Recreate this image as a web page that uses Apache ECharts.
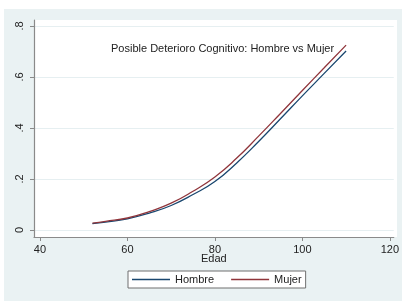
<!DOCTYPE html>
<html>
<head>
<meta charset="utf-8">
<script src="https://cdn.jsdelivr.net/npm/echarts@6/dist/echarts.min.js"></script>
<style>
  html, body { margin: 0; padding: 0; background: #fff; }
  #chart { width: 402px; height: 301px; }
</style>
</head>
<body>
<div id="chart"></div>
<script>
// edades (eje x)
const edades = [52, 55, 60, 65, 70, 75, 80, 85, 90, 95, 100, 105, 110]
// probabilidad estimada
const hombre = [0.025, 0.031, 0.044, 0.066, 0.096, 0.139, 0.190, 0.263, 0.347, 0.436, 0.526, 0.614, 0.702]
const mujer = [0.027, 0.034, 0.047, 0.072, 0.105, 0.152, 0.208, 0.282, 0.368, 0.457, 0.547, 0.636, 0.725]
const xTicks = [40, 60, 80, 100, 120]
const yTicks = [0, 0.2, 0.4, 0.6, 0.8]
const yLabels = ['0', '.2', '.4', '.6', '.8']

const FONT = '"Liberation Sans", Arial, sans-serif'
const AXIS_GRAY = '#8a8a8a'
const GRID_COLOR = '#e6eff1'

const chart = echarts.init(document.getElementById('chart'), null, { renderer: 'canvas' })

const toPairs = (vals) => edades.map((e, i) => [e, vals[i]])

const option = {
  animation: false,
  backgroundColor: '#ffffff',
  textStyle: { fontFamily: FONT },
  graphic: [
    // fondo del grafico (estilo Stata)
    { type: 'rect', z: -20, silent: true, shape: { x: 4, y: 9, width: 398, height: 292 }, style: { fill: '#eaf2f3' } },
    // region del grafico
    { type: 'rect', z: -10, silent: true, shape: { x: 34, y: 20, width: 363, height: 217 }, style: { fill: '#ffffff' } },
  ],
  title: {
    text: 'Posible Deterioro Cognitivo: Hombre vs Mujer',
    left: 111,
    top: 43,
    padding: 0,
    textStyle: { fontFamily: FONT, fontSize: 11, fontWeight: 'normal', color: '#222' },
  },
  grid: {
    left: 34,
    right: 5,
    top: 20,
    bottom: 64,
    containLabel: false,
  },
  xAxis: {
    type: 'value',
    min: 38.64,
    max: 120.9,
    name: 'Edad',
    nameLocation: 'middle',
    nameGap: 16,
    nameMoveOverlap: false,
    nameTextStyle: { fontFamily: FONT, fontSize: 11, color: '#222' },
    axisLine: { show: true, onZero: false, lineStyle: { color: AXIS_GRAY, width: 1.2 } },
    axisTick: { show: true, length: 4, customValues: xTicks, lineStyle: { color: AXIS_GRAY } },
    axisLabel: { customValues: xTicks, margin: 7, fontFamily: FONT, fontSize: 11, color: '#222' },
    splitLine: { show: false },
  },
  yAxis: {
    type: 'value',
    min: -0.0275,
    max: 0.8235,
    axisLine: { show: true, lineStyle: { color: AXIS_GRAY, width: 1.2 } },
    axisTick: { show: true, length: 4, customValues: yTicks, lineStyle: { color: AXIS_GRAY } },
    axisLabel: {
      customValues: yTicks,
      rotate: 90,
      margin: 9,
      fontFamily: FONT,
      fontSize: 11,
      color: '#222',
      formatter: (v) => yLabels[yTicks.findIndex((t) => Math.abs(t - v) < 1e-6)] ?? '',
    },
    splitLine: { show: true, lineStyle: { color: GRID_COLOR, width: 1 } },
  },
  legend: {
    left: 128,
    top: 271,
    padding: [2, 4, 2, 4],
    itemGap: 17,
    itemWidth: 38,
    itemHeight: 1.3,
    icon: 'rect',
    backgroundColor: '#ffffff',
    borderColor: '#6f6f6f',
    borderWidth: 1,
    borderRadius: 0,
    textStyle: { fontFamily: FONT, fontSize: 11, color: '#222', lineHeight: 13 },
    data: ['Hombre', 'Mujer'],
  },
  series: [
    {
      name: 'Hombre',
      type: 'line',
      data: toPairs(hombre),
      smooth: 0.5,
      symbol: 'none',
      lineStyle: { color: '#1a476f', width: 1.3 },
      itemStyle: { color: '#1a476f' },
    },
    {
      name: 'Mujer',
      type: 'line',
      data: toPairs(mujer),
      smooth: 0.5,
      symbol: 'none',
      lineStyle: { color: '#90353b', width: 1.3 },
      itemStyle: { color: '#90353b' },
    },
  ],
}

chart.setOption(option)
</script>
</body>
</html>
